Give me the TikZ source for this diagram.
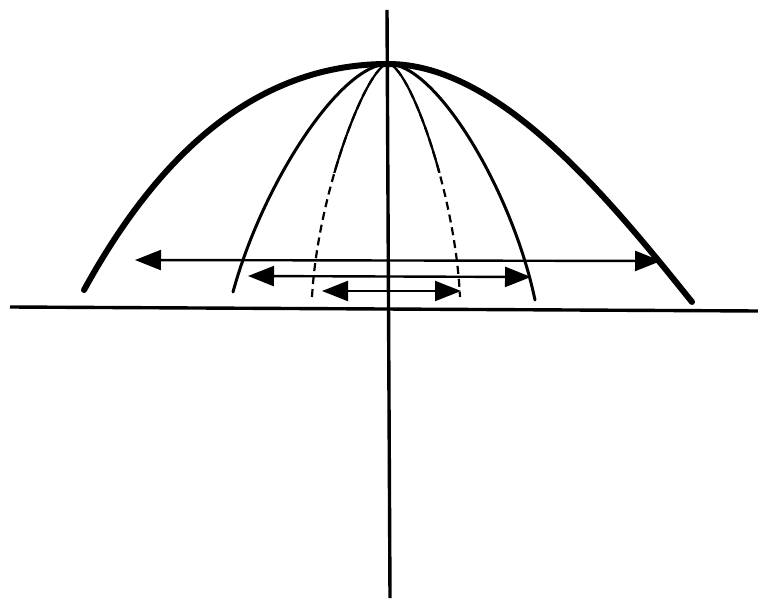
\documentclass[tikz,border=0pt]{standalone}
\usetikzlibrary{arrows.meta}
\tikzset{
  axis/.style={line width=1.7pt},
  outercurve/.style={line width=3pt, line cap=round},
  midcurve/.style={line width=1.5pt, line cap=round},
  innercurve/.style={line width=1.1pt},
  innerdash/.style={line width=1.1pt, dash pattern=on 4pt off 2.5pt},
  spread/.style={line width=1.2pt, {Triangle[length=13pt,width=10pt]}-{Triangle[length=13pt,width=10pt]}}
}
\begin{document}
\begin{tikzpicture}[x=0.5pt, y=-0.5pt]
    \useasboundingbox (0,0) rectangle (758,598);
    \fill[white] (0,0) rectangle (758,598);

    % axes
    \coordinate (ytop) at (387,10);
    \coordinate (ybot) at (390,598);
    \coordinate (xleft) at (10,307);
    \coordinate (xright) at (758,311);
    \draw[axis] (ytop) -- (ybot);
    \draw[axis] (xleft) -- (xright);

    % apex and curve ends
    \coordinate (apex) at (388,64);
    \coordinate (outerL) at (84,290);
    \coordinate (outerR) at (692,302);
    \coordinate (midL) at (233,292);
    \coordinate (midR) at (535,300);
    \coordinate (innerL) at (312,297);
    \coordinate (innerR) at (460,297);

    \draw[outercurve] (outerL) .. controls (150,170) and (245,64) .. (apex)
                      .. controls (500,64) and (610,200) .. (outerR);
    \draw[midcurve] (midL) .. controls (262,185) and (340,64) .. (apex)
                    .. controls (436,64) and (512,190) .. (midR);

    % inner curve: solid at the top, dashed below
    \draw[innerdash] (innerL) .. controls (318,190) and (368,64) .. (apex)
                     .. controls (408,64) and (455,190) .. (innerR);
    \begin{scope}
        \clip (0,0) rectangle (758,173);
        \draw[innercurve] (innerL) .. controls (318,190) and (368,64) .. (apex)
                          .. controls (408,64) and (455,190) .. (innerR);
    \end{scope}

    % widths
    \coordinate (wideA) at (135,260);
    \coordinate (wideB) at (661,261);
    \coordinate (midA) at (248,276);
    \coordinate (midB) at (531,277);
    \coordinate (narrowA) at (322,291);
    \coordinate (narrowB) at (461,291);
    \draw[spread] (wideA) -- (wideB);
    \draw[spread] (midA) -- (midB);
    \draw[spread] (narrowA) -- (narrowB);
\end{tikzpicture}
\end{document}
